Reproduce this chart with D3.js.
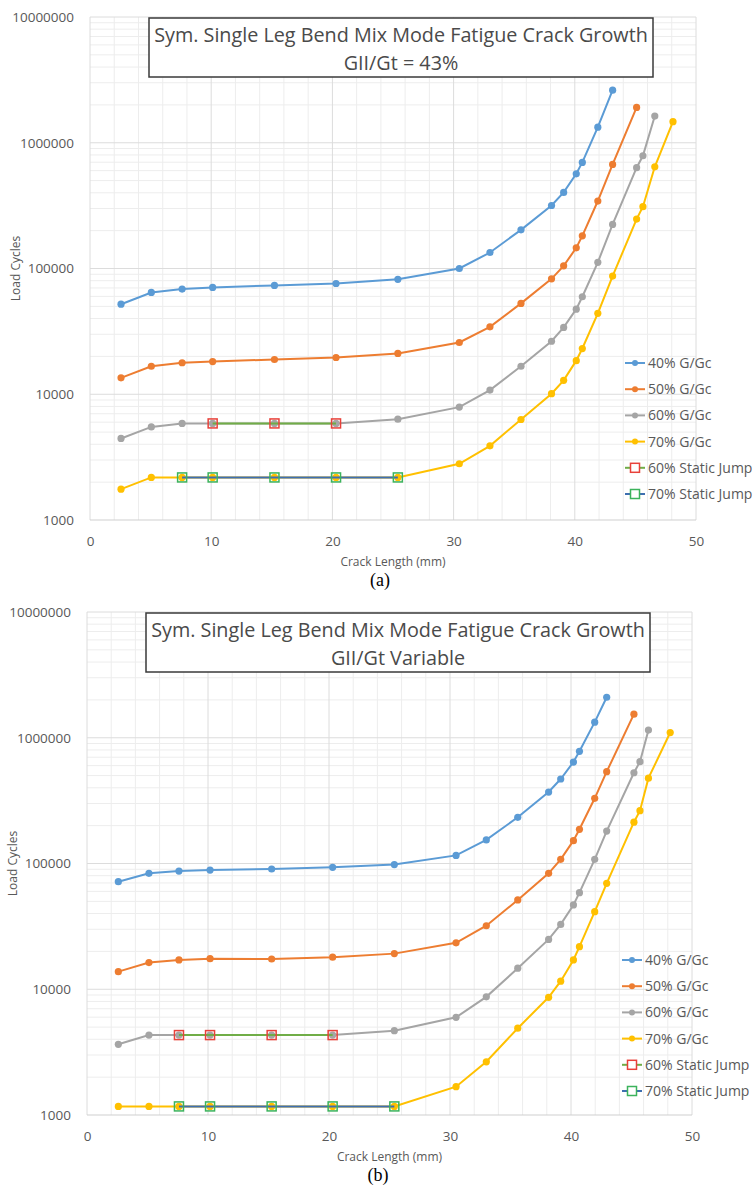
<!DOCTYPE html>
<html><head><meta charset="utf-8">
<script src="https://cdn.jsdelivr.net/npm/d3@7"></script>
<style>
body{margin:0;background:#fff}
svg{display:block}
text{font-family:"Open Sans",sans-serif}
</style>
</head><body>
<svg id="c" width="754" height="1188"></svg>
<script>
// ---------- shared labels ----------
const xTicks = [0, 10, 20, 30, 40, 50];
const yTicks = [1000, 10000, 100000, 1000000, 10000000];
const seriesNames = ["40% G/Gc", "50% G/Gc", "60% G/Gc", "70% G/Gc", "60% Static Jump", "70% Static Jump"];
const titleLine1 = "Sym. Single Leg Bend Mix Mode Fatigue Crack Growth";
const titleA2 = "GII/Gt = 43%";
const titleB2 = "GII/Gt Variable";
const xLabel = "Crack Length (mm)";
const yLabel = "Load Cycles";

// ---------- panel (a) ----------
const crackA = [2.56, 5.06, 7.6, 10.12, 15.22, 20.3, 25.4, 30.47, 33.0, 35.56, 38.08, 39.08, 40.12, 40.62, 41.9, 43.12, 45.1, 45.62, 46.6, 48.1];
const blueA = [52000, 64500, 68600, 70700, 73300, 76000, 82000, 100000, 134000, 203000, 317000, 403000, 566000, 698000, 1330000, 2620000];
const orangeA = [13500, 16700, 17800, 18200, 18900, 19600, 21100, 25800, 34400, 52800, 82800, 105000, 146000, 182000, 344000, 673000, 1910000];
const grayA = [4450, 5500, 5860, 5860, 5860, 5860, 6330, 7900, 10800, 16700, 26400, 34000, 47500, 59600, 112000, 224000, 633000, 788000, 1630000];
const yellowA = [1760, 2180, 2180, 2180, 2180, 2180, 2180, 2800, 3890, 6300, 10100, 12900, 18500, 23100, 44000, 87000, 247000, 310000, 644000, 1470000];
const jump60A_x = [10.12, 15.22, 20.3];
const jump60A_y = [5860, 5860, 5860];
const jump70A_x = [7.6, 10.12, 15.22, 20.3, 25.4];
const jump70A_y = [2180, 2180, 2180, 2180, 2180];

// ---------- panel (b) ----------
const crackB = [2.59, 5.12, 7.6, 10.17, 15.26, 20.3, 25.4, 30.5, 33.0, 35.6, 38.15, 39.15, 40.2, 40.7, 41.96, 42.95, 45.2, 45.7, 46.4, 48.2];
const blueB = [71700, 83600, 87100, 88700, 90400, 93300, 98000, 116000, 154000, 233000, 370000, 470000, 641000, 780000, 1330000, 2100000];
const orangeB = [13800, 16300, 17100, 17500, 17400, 18000, 19200, 23400, 32000, 51300, 83600, 108000, 152000, 187000, 330000, 537000, 1540000];
const grayB = [3650, 4320, 4320, 4320, 4320, 4320, 4680, 5980, 8700, 14700, 24900, 32800, 46800, 58600, 108000, 181000, 527000, 645000, 1150000];
const yellowB = [1170, 1170, 1170, 1170, 1170, 1170, 1170, 1680, 2650, 4900, 8630, 11600, 17100, 21800, 41400, 69500, 213000, 263000, 477000, 1100000];
const jump60B_x = [7.6, 10.17, 15.26, 20.3];
const jump60B_y = [4320, 4320, 4320, 4320];
const jump70B_x = [7.6, 10.17, 15.26, 20.3, 25.4];
const jump70B_y = [1170, 1170, 1170, 1170, 1170];

const colors = ["#5B9BD5", "#ED7D31", "#A5A5A5", "#FFC000"];
const jumpLine = ["#70AD47", "#3E6FB0"];
const jumpBox = ["#E8413A", "#3CB35C"];

const svg = d3.select("#c");

function fitFont(sel, target, base) {
  const w = sel.node().getComputedTextLength();
  sel.attr("font-size", base * target / w);
}

function panel(cfg) {
  const g = svg.append("g");
  const x = d3.scaleLinear().domain([0, 50]).range([cfg.left, cfg.right]);
  const y = d3.scaleLog().domain([1000, 10000000]).range([cfg.bottom, cfg.top]);

  // minor grid
  const minorX = d3.range(0, 51, 2).filter(v => v % 10 !== 0);
  g.append("g").selectAll("line").data(minorX).join("line")
    .attr("x1", d => x(d)).attr("x2", d => x(d)).attr("y1", cfg.top).attr("y2", cfg.bottom)
    .attr("stroke", "#ededed").attr("stroke-width", 1);
  const minorY = [];
  [1000, 10000, 100000, 1000000].forEach(dec => { for (let k = 2; k <= 9; k++) minorY.push(dec * k); });
  g.append("g").selectAll("line").data(minorY).join("line")
    .attr("x1", cfg.left).attr("x2", cfg.right).attr("y1", d => y(d)).attr("y2", d => y(d))
    .attr("stroke", "#ededed").attr("stroke-width", 1);
  // major grid
  g.append("g").selectAll("line").data(xTicks).join("line")
    .attr("x1", d => x(d)).attr("x2", d => x(d)).attr("y1", cfg.top).attr("y2", cfg.bottom)
    .attr("stroke", "#dcdcdc").attr("stroke-width", 1);
  g.append("g").selectAll("line").data(yTicks).join("line")
    .attr("x1", cfg.left).attr("x2", cfg.right).attr("y1", d => y(d)).attr("y2", d => y(d))
    .attr("stroke", d => d === 1000 ? "#cfcfcf" : "#dcdcdc").attr("stroke-width", 1);

  // axes labels via d3 axes
  const ax = g.append("g").attr("transform", `translate(0,${cfg.bottom})`)
    .call(d3.axisBottom(x).tickValues(xTicks).tickSize(0).tickPadding(16));
  ax.select(".domain").remove();
  ax.selectAll("text").attr("font-size", 13.5).attr("fill", "#595959").attr("font-family", "Open Sans");
  const ay = g.append("g").attr("transform", `translate(${cfg.left},0)`)
    .call(d3.axisLeft(y).tickValues(yTicks).tickFormat(d3.format("d")).tickSize(0).tickPadding(16));
  ay.select(".domain").remove();
  ay.selectAll("text").attr("font-size", 13.5).attr("fill", "#595959").attr("font-family", "Open Sans");

  // axis titles
  g.append("text").attr("x", (cfg.left + cfg.right) / 2).attr("y", cfg.bottom + 46)
    .attr("text-anchor", "middle").attr("font-size", 12).attr("fill", "#595959").text(xLabel);
  g.append("text").attr("transform", `translate(${cfg.left - 70},${(cfg.top + cfg.bottom) / 2}) rotate(-90)`)
    .attr("text-anchor", "middle").attr("font-size", 12).attr("fill", "#595959").text(yLabel);

  // series lines
  const line = d3.line().x(d => x(d[0])).y(d => y(d[1]));
  cfg.series.forEach((vals, i) => {
    const pts = vals.map((v, k) => [cfg.crack[k], v]);
    g.append("path").datum(pts).attr("d", line).attr("fill", "none")
      .attr("stroke", colors[i]).attr("stroke-width", 2);
    g.append("g").selectAll("circle").data(pts).join("circle")
      .attr("cx", d => x(d[0])).attr("cy", d => y(d[1])).attr("r", 3.6).attr("fill", colors[i]);
  });
  // static jumps
  cfg.jumps.forEach((jp, i) => {
    const pts = jp[0].map((v, k) => [v, jp[1][k]]);
    g.append("path").datum(pts).attr("d", line).attr("fill", "none")
      .attr("stroke", jumpLine[i]).attr("stroke-width", 2);
    g.append("g").selectAll("rect").data(pts).join("rect")
      .attr("x", d => x(d[0]) - 4.5).attr("y", d => y(d[1]) - 4.5).attr("width", 9).attr("height", 9)
      .attr("fill", "none").attr("stroke", jumpBox[i]).attr("stroke-width", 1.5);
  });

  // title box
  const bx = cfg.left + 59, by = cfg.top + 1, bw = 504, bh = 59;
  g.append("rect").attr("x", bx).attr("y", by).attr("width", bw).attr("height", bh)
    .attr("fill", "#fff").attr("stroke", "#3a3a3a").attr("stroke-width", 1.5);
  const t1 = g.append("text").attr("x", bx + bw / 2).attr("y", by + 24).attr("text-anchor", "middle")
    .attr("font-size", 20).attr("fill", "#4a4a4a").text(titleLine1);
  fitFont(t1, 494, 20);
  g.append("text").attr("x", bx + bw / 2).attr("y", by + 52).attr("text-anchor", "middle")
    .attr("font-size", t1.attr("font-size")).attr("fill", "#4a4a4a").text(cfg.title2);

  // legend
  const lx = cfg.left + 535, ly = cfg.top + cfg.legendDy, step = 26.2;
  seriesNames.forEach((name, i) => {
    const yy = ly + i * step;
    const lc = i < 4 ? colors[i] : jumpLine[i - 4];
    g.append("line").attr("x1", lx).attr("x2", lx + 20).attr("y1", yy).attr("y2", yy)
      .attr("stroke", lc).attr("stroke-width", 2);
    if (i < 4) {
      g.append("circle").attr("cx", lx + 10).attr("cy", yy).attr("r", 3).attr("fill", lc);
    } else {
      g.append("rect").attr("x", lx + 5.5).attr("y", yy - 4.5).attr("width", 9).attr("height", 9)
        .attr("fill", "#fff").attr("stroke", jumpBox[i - 4]).attr("stroke-width", 1.5);
    }
    const t = g.append("text").attr("x", lx + 23).attr("y", yy + 5).attr("font-size", 14)
      .attr("fill", "#595959").text(name);
  });

  // sub caption
  g.append("text").attr("x", cfg.capX).attr("y", cfg.bottom + 66).attr("text-anchor", "middle")
    .style("font-family", "'Liberation Serif', serif")
    .attr("font-size", 18).attr("fill", "#000").text(cfg.cap);
}

panel({ left: 90, right: 696, top: 17, bottom: 520, crack: crackA,
  series: [blueA, orangeA, grayA, yellowA],
  jumps: [[jump60A_x, jump60A_y], [jump70A_x, jump70A_y]],
  title2: titleA2, legendDy: 346, cap: "(a)", capX: 380 });
panel({ left: 87, right: 692, top: 612, bottom: 1115, crack: crackB,
  series: [blueB, orangeB, grayB, yellowB],
  jumps: [[jump60B_x, jump60B_y], [jump70B_x, jump70B_y]],
  title2: titleB2, legendDy: 348, cap: "(b)", capX: 378 });
</script>
</body></html>
